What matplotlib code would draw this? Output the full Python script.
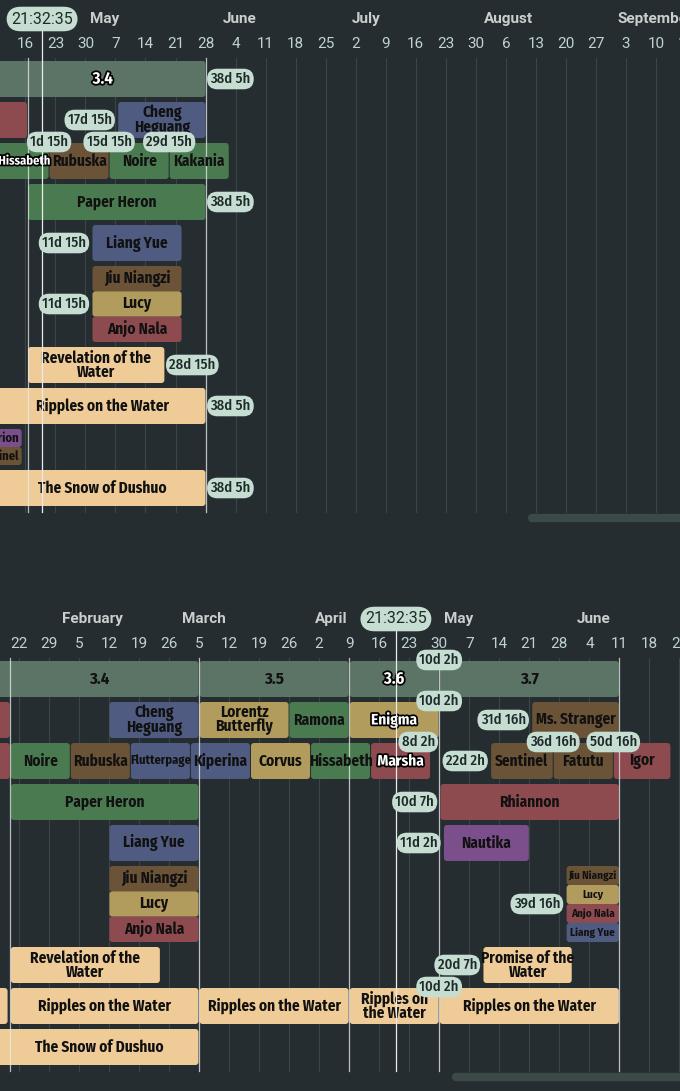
import datetime as dt
import matplotlib
matplotlib.use("Agg")
import matplotlib.pyplot as plt
import matplotlib.dates as mdates
import matplotlib.patheffects as pe
from matplotlib.patches import FancyBboxPatch
from matplotlib.transforms import blended_transform_factory

BG = "#262d31"
PILL = "#c6ddd2"
COLORS = {"ver": "#5b7466", "red": "#8d4b50", "blue": "#4f5b80", "green": "#4a7b50",
          "brown": "#6b5337", "olive": "#b19b5d", "cream": "#eecb97", "purple": "#7b4f8b"}
COND = ["Fira Sans Condensed", "Roboto Condensed", "Liberation Sans Narrow", "DejaVu Sans"]

NOW = "2025-04-19 21:32:35"

# (label, colour, start, end, row, slot, slots)
top_banners = [
    ("3.4", "ver", "2025-03-01", "2025-05-28 02:32", 0, 0, 1),
    ("", "red", "2025-03-20", "2025-04-16 12:00", 1, 0, 1),
    ("Cheng\nHeguang", "blue", "2025-05-07 12:32", "2025-05-28 02:32", 1, 0, 1),
    ("Hissabeth", "green", "2025-04-07 12:32", "2025-04-21 12:32", 2, 0, 1),
    ("Rubuska", "brown", "2025-04-21 12:32", "2025-05-05 12:32", 2, 0, 1),
    ("Noire", "green", "2025-05-05 12:32", "2025-05-19 12:32", 2, 0, 1),
    ("Kakania", "green", "2025-05-19 12:32", "2025-06-02 12:32", 2, 0, 1),
    ("Paper Heron", "green", "2025-04-16 12:00", "2025-05-28 02:32", 3, 0, 1),
    ("Liang Yue", "blue", "2025-05-01 12:32", "2025-05-22 12:32", 4, 0, 1),
    ("Jiu Niangzi", "brown", "2025-05-01 12:32", "2025-05-22 12:32", 5, 0, 3),
    ("Lucy", "olive", "2025-05-01 12:32", "2025-05-22 12:32", 5, 1, 3),
    ("Anjo Nala", "red", "2025-05-01 12:32", "2025-05-22 12:32", 5, 2, 3),
    ("Revelation of the\nWater", "cream", "2025-04-16 12:00", "2025-05-18 12:32", 6, 0, 1),
    ("Ripples on the Water", "cream", "2025-03-01", "2025-05-28 02:32", 7, 0, 1),
    ("Centurion", "purple", "2025-03-20", "2025-04-15 06:00", 8, 0, 2),
    ("Sentinel", "brown", "2025-03-20", "2025-04-15 06:00", 8, 1, 2),
    ("The Snow of Dushuo", "cream", "2025-03-01", "2025-05-28 02:32", 9, 0, 1),
]

bottom_banners = [
    ("3.4", "ver", "2024-12-01", "2025-03-05", 0, 0, 1),
    ("3.5", "ver", "2025-03-05", "2025-04-09", 0, 0, 1),
    ("3.6", "ver", "2025-04-09", "2025-04-29 23:32", 0, 0, 1),
    ("3.7", "ver", "2025-04-29 23:32", "2025-06-11", 0, 0, 1),
    ("", "red", "2024-12-20", "2025-01-20", 1, 0, 1),
    ("Cheng\nHeguang", "blue", "2025-02-12", "2025-03-05", 1, 0, 1),
    ("Lorentz\nButterfly", "olive", "2025-03-05", "2025-03-26", 1, 0, 1),
    ("Ramona", "green", "2025-03-26", "2025-04-09", 1, 0, 1),
    ("Enigma", "olive", "2025-04-09", "2025-04-29 23:32", 1, 0, 1),
    ("Ms. Stranger", "brown", "2025-05-21 13:32", "2025-06-11", 1, 0, 1),
    ("", "red", "2024-12-20", "2025-01-20", 2, 0, 1),
    ("Noire", "green", "2025-01-20", "2025-02-03", 2, 0, 1),
    ("Rubuska", "brown", "2025-02-03", "2025-02-17", 2, 0, 1),
    ("Flutterpage", "blue", "2025-02-17", "2025-03-03", 2, 0, 1),
    ("Kiperina", "blue", "2025-03-03", "2025-03-17", 2, 0, 1),
    ("Corvus", "olive", "2025-03-17", "2025-03-31", 2, 0, 1),
    ("Hissabeth", "green", "2025-03-31", "2025-04-13 23:32", 2, 0, 1),
    ("Marsha", "red", "2025-04-13 23:32", "2025-04-27 23:32", 2, 0, 1),
    ("Sentinel", "brown", "2025-05-11 23:32", "2025-05-26 13:32", 2, 0, 1),
    ("Fatutu", "brown", "2025-05-26 13:32", "2025-06-09 13:32", 2, 0, 1),
    ("Igor", "red", "2025-06-09 13:32", "2025-06-23", 2, 0, 1),
    ("Paper Heron", "green", "2025-01-20", "2025-03-05", 3, 0, 1),
    ("Rhiannon", "red", "2025-04-30 04:32", "2025-06-11", 3, 0, 1),
    ("Liang Yue", "blue", "2025-02-12", "2025-03-05", 4, 0, 1),
    ("Nautika", "purple", "2025-04-30 23:32", "2025-05-21", 4, 0, 1),
    ("Jiu Niangzi", "brown", "2025-02-12", "2025-03-05", 5, 0, 3),
    ("Lucy", "olive", "2025-02-12", "2025-03-05", 5, 1, 3),
    ("Anjo Nala", "red", "2025-02-12", "2025-03-05", 5, 2, 3),
    ("Jiu Niangzi", "brown", "2025-05-29 13:32", "2025-06-11", 5, 0, 4),
    ("Lucy", "olive", "2025-05-29 13:32", "2025-06-11", 5, 1, 4),
    ("Anjo Nala", "red", "2025-05-29 13:32", "2025-06-11", 5, 2, 4),
    ("Liang Yue", "blue", "2025-05-29 13:32", "2025-06-11", 5, 3, 4),
    ("Revelation of the\nWater", "cream", "2025-01-20", "2025-02-24", 6, 0, 1),
    ("Promise of the\nWater", "cream", "2025-05-10 04:32", "2025-05-31", 6, 0, 1),
    ("", "cream", "2024-12-20", "2025-01-19 12:00", 7, 0, 1),
    ("Ripples on the Water", "cream", "2025-01-20", "2025-03-05", 7, 0, 1),
    ("Ripples on the Water", "cream", "2025-03-05", "2025-04-09", 7, 0, 1),
    ("Ripples on\nthe Water", "cream", "2025-04-09", "2025-04-29 23:32", 7, 0, 1),
    ("Ripples on the Water", "cream", "2025-04-29 23:32", "2025-06-11", 7, 0, 1),
    ("The Snow of Dushuo", "cream", "2024-12-01", "2025-03-05", 8, 0, 1),
]

# countdown pills: (date, row, placement)
top_pills = [
    ("2025-05-28 02:32", 0, "right"), ("2025-05-07 12:32", 1, "left"),
    ("2025-04-21 12:32", 2, "top"), ("2025-05-05 12:32", 2, "top"),
    ("2025-05-19 12:32", 2, "top"), ("2025-05-28 02:32", 3, "right"),
    ("2025-05-01 12:32", 4, "left"), ("2025-05-01 12:32", 5, "left"),
    ("2025-05-18 12:32", 6, "right"), ("2025-05-28 02:32", 7, "right"),
    ("2025-05-28 02:32", 9, "right"),
]
bottom_pills = [
    ("2025-04-29 23:32", 0, "top"), ("2025-04-29 23:32", 1, "top"),
    ("2025-04-27 23:32", 2, "topleft"), ("2025-05-11 23:32", 2, "left"),
    ("2025-05-26 13:32", 2, "top"), ("2025-06-09 13:32", 2, "top"),
    ("2025-05-21 13:32", 1, "left"), ("2025-04-30 04:32", 3, "left"),
    ("2025-04-30 23:32", 4, "left"), ("2025-05-29 13:32", 5, "left"),
    ("2025-05-10 04:32", 6, "left"), ("2025-04-29 23:32", 7, "top"),
]

top_lines = ["2025-04-16 12:00", "2025-05-28 02:32"]
bottom_lines = ["2025-01-20", "2025-03-05", "2025-04-09", "2025-04-29 23:32", "2025-06-11"]

top_rows = [36, 36, 36, 36, 36, 76, 36, 36, 36, 36]
bottom_rows = [36, 36, 36, 36, 36, 76, 36, 36, 36]

PX_PER_DAY = 4.29


def d(s):
    return mdates.date2num(dt.datetime.fromisoformat(s))


now = d(NOW)
now_dt = dt.datetime.fromisoformat(NOW)

fig = plt.figure(figsize=(6.8, 10.91), dpi=100, facecolor=BG)


def row_geom(rows, y0):
    out = []
    y = y0
    for h in rows:
        out.append((y, h))
        y += h + 5
    return out


def draw_panel(ax, xmin, banners, pills, lines, rows, y0, ylim, scroll_x0):
    xmax = xmin + 680 / PX_PER_DAY
    ax.set_xlim(xmin, xmax)
    ax.set_ylim(*ylim)
    ax.set_facecolor(BG)
    ax.axis("off")
    geom = row_geom(rows, y0)
    ytop, ybot = y0 - 3, geom[-1][0] + geom[-1][1] + 6

    # weekly grid + tick labels (Wednesdays)
    t = mdates.num2date(xmin).replace(tzinfo=None)
    t = dt.datetime(t.year, t.month, t.day)
    while t.weekday() != 2:
        t += dt.timedelta(days=1)
    while mdates.date2num(t) < xmax + 3:
        x = mdates.date2num(t)
        ax.plot([x, x], [ytop, ybot], color="#3a4549", lw=0.8, zorder=0)
        ax.text(x, y0 - 17, str(t.day), ha="center", va="center", color="#bfd2d6",
                fontsize=11, family="Roboto")
        t += dt.timedelta(days=7)
    # month labels
    m = mdates.num2date(xmin).replace(tzinfo=None)
    m = dt.datetime(m.year, m.month, 1)
    while mdates.date2num(m) < xmax:
        x = mdates.date2num(m)
        if x > xmin:
            ax.text(x, y0 - 42, m.strftime("%B"), ha="left", va="center", color="#c9cfcc",
                    fontsize=11, family="Roboto", fontweight="bold")
        m = dt.datetime(m.year + (m.month // 12), m.month % 12 + 1, 1)
    for s in lines:
        x = d(s)
        ax.plot([x, x], [ytop, ybot], color="#e8ecea", lw=0.9, alpha=0.75, zorder=3)

    for label, col, s, e, row, slot, slots in banners:
        x0, x1 = d(s) + 0.12, d(e) - 0.12
        ry, rh = geom[row]
        sh = rh / slots
        by = ry + slot * sh
        patch = FancyBboxPatch((x0, by), x1 - x0, sh,
                               boxstyle="round,pad=0,rounding_size=0.7",
                               mutation_aspect=PX_PER_DAY, fc=COLORS[col], ec="none", zorder=2)
        ax.add_patch(patch)
        if not label:
            continue
        vis0, vis1 = max(x0, xmin), min(x1, xmax)
        wpx = (vis1 - vis0) * PX_PER_DAY
        longest = max(len(p) for p in label.split("\n"))
        fs = 11
        if row == 0:
            fs = 12
        if slots >= 4:
            fs = 8
        elif wpx / longest < 6.0:
            fs = 9
        tw = longest * fs * 0.5
        if tw > wpx and vis0 == xmin:
            tx, ha = vis1 - 0.5, "right"
        else:
            tx, ha = (vis0 + vis1) / 2, "center"
        active = d(s) <= now < d(e) and row <= 2
        txt = ax.text(tx, by + sh / 2, label, ha=ha, va="center", fontsize=fs,
                      family=COND, fontweight="bold",
                      color="white" if active else "#111111", linespacing=0.85, zorder=4)
        if active:
            txt.set_path_effects([pe.withStroke(linewidth=2.5, foreground="black")])
        txt.set_clip_path(patch)

    for s, row, place in pills:
        x = d(s)
        delta = dt.datetime.fromisoformat(s) - now_dt
        hours = round(delta.seconds / 3600)
        lab = f"{delta.days}d {hours}h"
        ry, rh = geom[row]
        if place == "right":
            px, py, ha = x + 1.0, ry + rh / 2, "left"
        elif place == "left":
            px, py, ha = x - 1.4, ry + rh / 2, "right"
        elif place == "topleft":
            px, py, ha = x + 1.0, ry - 1, "right"
        else:
            px, py, ha = x, ry - 1, "center"
        ax.text(px, py, lab, ha=ha, va="center", fontsize=10.5, family=COND,
                fontweight="medium", color="#1e2a29", zorder=6,
                bbox=dict(boxstyle="round,pad=0.22,rounding_size=0.7", fc=PILL, ec="none"))

    # now marker
    ax.plot([now, now], [y0 - 52, ybot], color="#e8ecea", lw=0.9, zorder=5)
    ax.text(now, y0 - 42, "21:32:35", ha="center", va="center", fontsize=11.5, family="Roboto",
            color="#1e2a29", zorder=7,
            bbox=dict(boxstyle="round,pad=0.3,rounding_size=0.9", fc=PILL, ec="none"))
    # scrollbar
    tr = blended_transform_factory(ax.transAxes, ax.transData)
    ax.plot([scroll_x0, 1.02], [ybot + 6, ybot + 6], transform=tr, color="#3c4a47", lw=6,
            solid_capstyle="round", zorder=1)


ax_top = fig.add_axes([0, 1 - 530 / 1091, 1, 530 / 1091])
draw_panel(ax_top, d("2025-05-28 02:32") - 206 / PX_PER_DAY, top_banners, top_pills,
           top_lines, top_rows, 61, (530, 0), 0.783)

ax_bot = fig.add_axes([0, 0, 1, 561 / 1091])
draw_panel(ax_bot, d("2025-03-05") - 199 / PX_PER_DAY, bottom_banners, bottom_pills,
           bottom_lines, bottom_rows, 661, (1091, 530), 0.67)

fig.savefig("out.png", dpi=100, facecolor=BG)
